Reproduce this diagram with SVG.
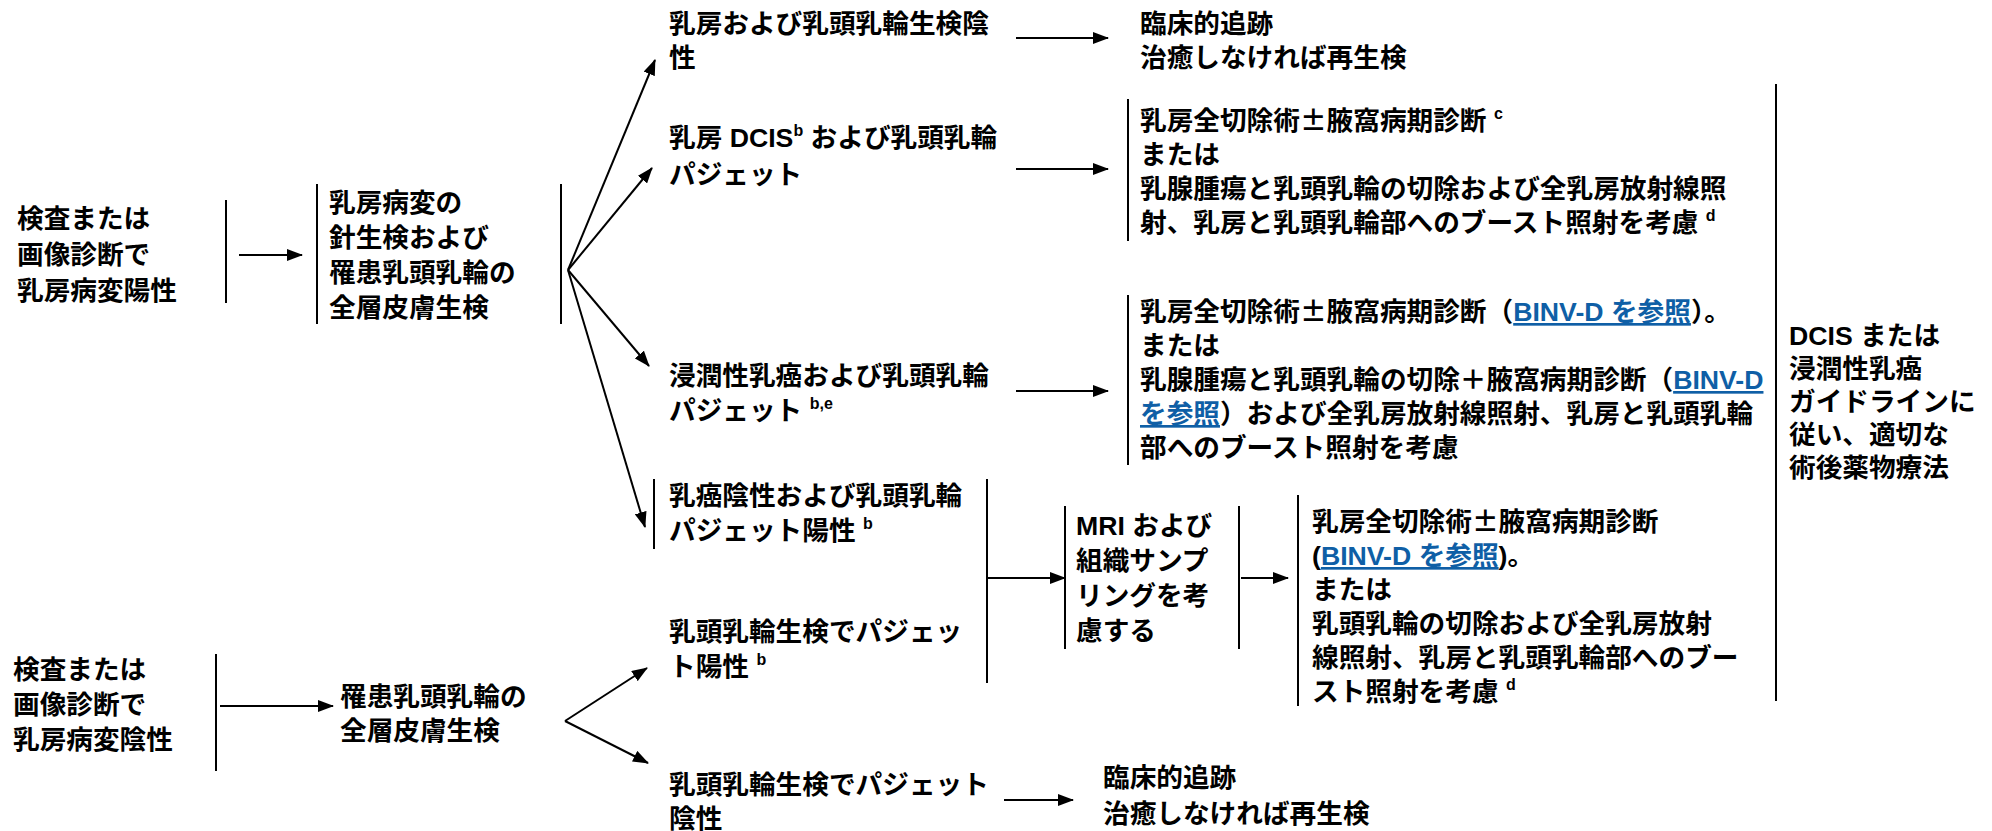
<svg xmlns="http://www.w3.org/2000/svg" width="1992" height="831" viewBox="0 0 1992 831">
<style>
text{font-family:"Liberation Sans","Noto Sans CJK JP",sans-serif;font-size:26.67px;font-weight:700;fill:#000}
.sup{font-size:16px}
.pm{font-family:"Noto Sans CJK JP",sans-serif}
.lnk{fill:#0f5fa6;text-decoration:underline}
.bar{stroke:#000;stroke-width:2;fill:none}
.arr{stroke:#000;stroke-width:2;fill:none;marker-end:url(#ah)}
</style>
<defs>
<marker id="ah" markerWidth="16" markerHeight="12" refX="15" refY="6" orient="auto" markerUnits="userSpaceOnUse">
<path d="M0,0 L16,6 L0,12 Z" fill="#000"/>
</marker>
</defs>
<rect width="1992" height="831" fill="#fff"/>

<g id="connectors">
<line class="arr" x1="239" y1="255" x2="302" y2="255"/>
<line class="arr" x1="568" y1="270" x2="655" y2="60"/>
<line class="arr" x1="568" y1="270" x2="652" y2="168"/>
<line class="arr" x1="568" y1="270" x2="649" y2="366"/>
<line class="arr" x1="568" y1="270" x2="645" y2="527"/>
<line class="arr" x1="1016" y1="38" x2="1108" y2="38"/>
<line class="arr" x1="1016" y1="169" x2="1108" y2="169"/>
<line class="arr" x1="1016" y1="391" x2="1108" y2="391"/>
<line class="arr" x1="987" y1="578" x2="1065" y2="578"/>
<line class="arr" x1="1241" y1="578" x2="1288" y2="578"/>
<line class="arr" x1="220" y1="706" x2="333" y2="706"/>
<line class="arr" x1="565" y1="721" x2="647" y2="668"/>
<line class="arr" x1="565" y1="721" x2="648" y2="763"/>
<line class="arr" x1="1004" y1="800" x2="1073" y2="800"/>
</g>

<g id="n-pos">
<text x="17" y="228">検査または</text>
<text x="17" y="264">画像診断で</text>
<text x="17" y="300">乳房病変陽性</text>
<line class="bar" x1="226" y1="200" x2="226" y2="303"/>
</g>

<g id="n-biopsy">
<line class="bar" x1="317" y1="184" x2="317" y2="324"/>
<text x="329" y="212">乳房病変の</text>
<text x="329" y="247">針生検および</text>
<text x="329" y="282">罹患乳頭乳輪の</text>
<text x="329" y="317">全層皮膚生検</text>
<line class="bar" x1="561" y1="184" x2="561" y2="324"/>
</g>

<g id="n-neg">
<text x="669" y="33">乳房および乳頭乳輪生検陰</text>
<text x="669" y="67">性</text>
</g>
<g id="n-follow1">
<text x="1140" y="33">臨床的追跡</text>
<text x="1140" y="67">治癒しなければ再生検</text>
</g>

<g id="n-dcis">
<text x="669" y="147">乳房 DCIS<tspan class="sup" dy="-11">b</tspan><tspan dy="11"> および乳頭乳輪</tspan></text>
<text x="669" y="184">パジェット</text>
</g>
<g id="n-tx1">
<line class="bar" x1="1128" y1="99" x2="1128" y2="241"/>
<text x="1140" y="130">乳房全切除術<tspan class="pm">±</tspan>腋窩病期診断 <tspan class="sup" dy="-11">c</tspan></text>
<text x="1140" y="164">または</text>
<text x="1140" y="198">乳腺腫瘍と乳頭乳輪の切除および全乳房放射線照</text>
<text x="1140" y="232">射、乳房と乳頭乳輪部へのブースト照射を考慮 <tspan class="sup" dy="-11">d</tspan></text>
</g>

<g id="n-inv">
<text x="669" y="385">浸潤性乳癌および乳頭乳輪</text>
<text x="669" y="420">パジェット <tspan class="sup" dy="-11">b,e</tspan></text>
</g>
<g id="n-tx2">
<line class="bar" x1="1128" y1="295" x2="1128" y2="465"/>
<text x="1140" y="321">乳房全切除術<tspan class="pm">±</tspan>腋窩病期診断（<tspan class="lnk">BINV-D を参照</tspan>）。</text>
<text x="1140" y="355">または</text>
<text x="1140" y="389">乳腺腫瘍と乳頭乳輪の切除＋腋窩病期診断（<tspan class="lnk">BINV-D</tspan></text>
<text x="1140" y="423"><tspan class="lnk">を参照</tspan>）および全乳房放射線照射、乳房と乳頭乳輪</text>
<text x="1140" y="457">部へのブースト照射を考慮</text>
</g>

<g id="n-pagetpos1">
<line class="bar" x1="654" y1="479" x2="654" y2="549"/>
<text x="669" y="505">乳癌陰性および乳頭乳輪</text>
<text x="669" y="540">パジェット陽性 <tspan class="sup" dy="-11">b</tspan></text>
</g>
<g id="n-pagetpos2">
<text x="669" y="641">乳頭乳輪生検でパジェッ</text>
<text x="669" y="676">ト陽性 <tspan class="sup" dy="-11">b</tspan></text>
<line class="bar" x1="987" y1="479" x2="987" y2="683"/>
</g>

<g id="n-mri">
<line class="bar" x1="1065" y1="506" x2="1065" y2="649"/>
<text x="1076" y="535">MRI および</text>
<text x="1076" y="570">組織サンプ</text>
<text x="1076" y="605">リングを考</text>
<text x="1076" y="640">慮する</text>
<line class="bar" x1="1239" y1="506" x2="1239" y2="649"/>
</g>

<g id="n-tx3">
<line class="bar" x1="1298" y1="495" x2="1298" y2="706"/>
<text x="1312" y="531">乳房全切除術<tspan class="pm">±</tspan>腋窩病期診断</text>
<text x="1312" y="565">(<tspan class="lnk">BINV-D を参照</tspan>)。</text>
<text x="1312" y="599">または</text>
<text x="1312" y="633">乳頭乳輪の切除および全乳房放射</text>
<text x="1312" y="667">線照射、乳房と乳頭乳輪部へのブー</text>
<text x="1312" y="701">スト照射を考慮 <tspan class="sup" dy="-11">d</tspan></text>
</g>

<g id="n-final">
<line class="bar" x1="1776" y1="84" x2="1776" y2="701"/>
<text x="1789" y="345">DCIS または</text>
<text x="1789" y="378">浸潤性乳癌</text>
<text x="1789" y="411">ガイドラインに</text>
<text x="1789" y="444">従い、適切な</text>
<text x="1789" y="477">術後薬物療法</text>
</g>

<g id="n-negimg">
<text x="13" y="679">検査または</text>
<text x="13" y="714">画像診断で</text>
<text x="13" y="749">乳房病変陰性</text>
<line class="bar" x1="216" y1="654" x2="216" y2="771"/>
</g>

<g id="n-skin">
<text x="340" y="706">罹患乳頭乳輪の</text>
<text x="340" y="740">全層皮膚生検</text>
</g>

<g id="n-pagetneg">
<text x="669" y="794">乳頭乳輪生検でパジェット</text>
<text x="669" y="828">陰性</text>
</g>
<g id="n-follow2">
<text x="1103" y="787">臨床的追跡</text>
<text x="1103" y="823">治癒しなければ再生検</text>
</g>
</svg>
